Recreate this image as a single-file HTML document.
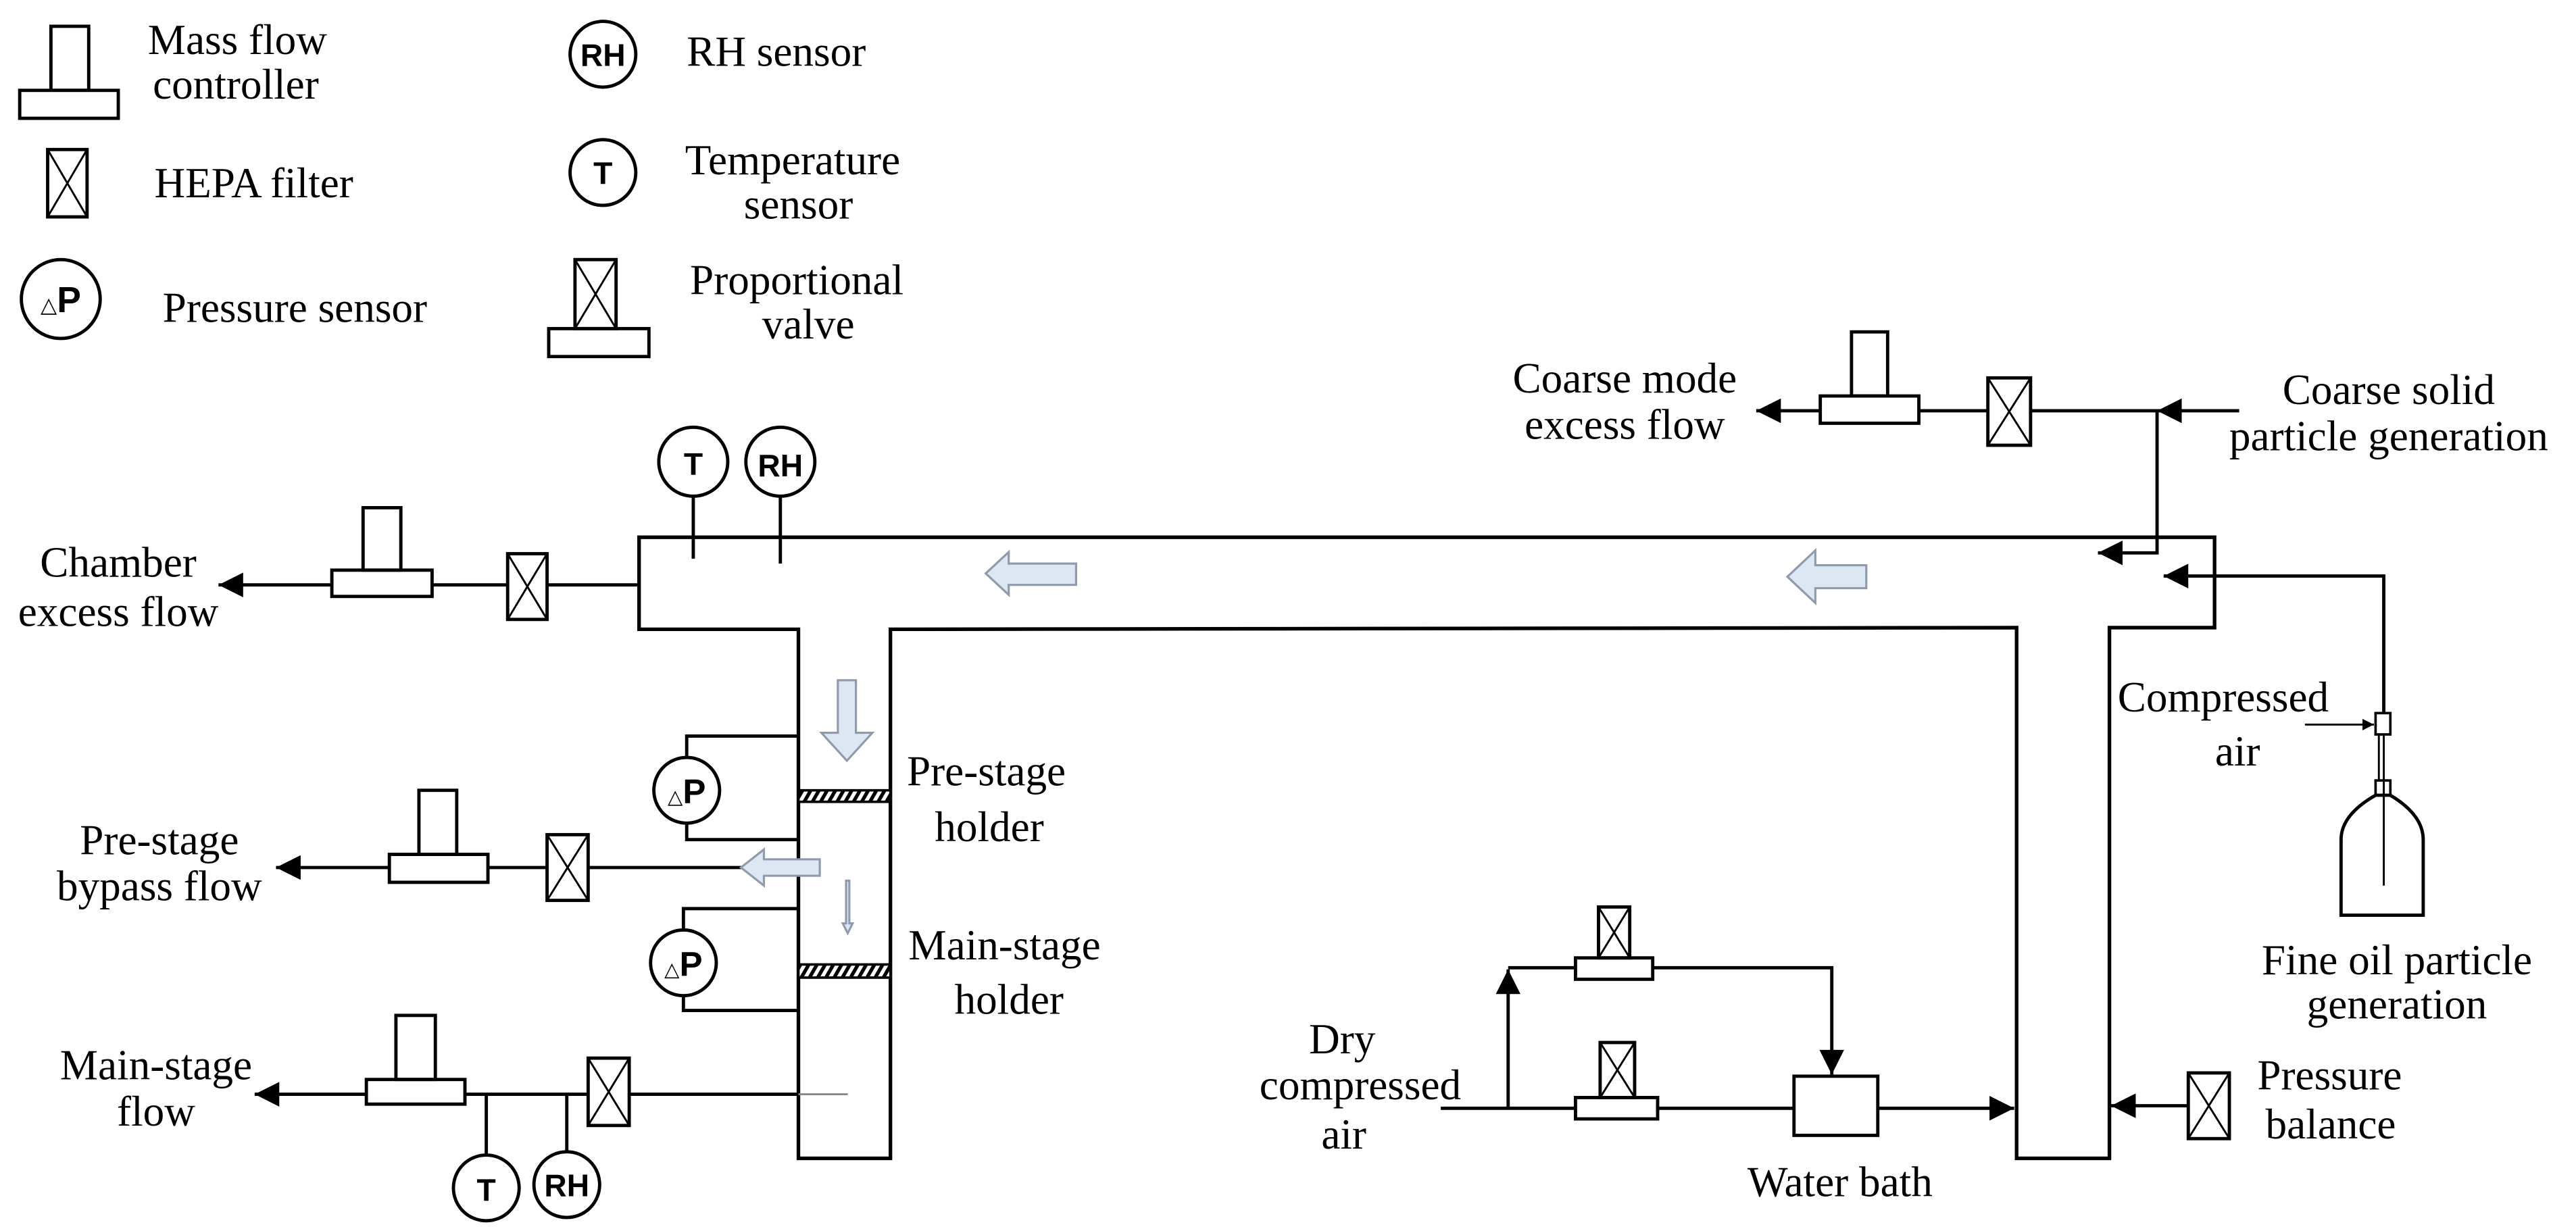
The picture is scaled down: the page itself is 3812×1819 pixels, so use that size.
<!DOCTYPE html>
<html><head><meta charset="utf-8"><style>
html,body{margin:0;padding:0;background:#fff;}
svg{display:block;}
text{font-family:"Liberation Serif",serif;font-size:26px;fill:#000;}
.s{font-family:"Liberation Sans",sans-serif;font-weight:bold;font-size:19px;}
</style></head><body>
<svg width="3812" height="1819" viewBox="0 0 1568 748" preserveAspectRatio="none" xmlns="http://www.w3.org/2000/svg">
<defs>
<marker id="ah" viewBox="0 0 10 10" refX="10" refY="5" markerWidth="20" markerHeight="15" markerUnits="userSpaceOnUse" orient="auto"><path d="M0,0 L10,5 L0,10 z" fill="#000"/></marker>
<marker id="sm" viewBox="0 0 10 10" refX="10" refY="5" markerWidth="8" markerHeight="7" markerUnits="userSpaceOnUse" orient="auto"><path d="M0,0 L10,5 L0,10 z" fill="#000"/></marker>
<pattern id="hat" width="5" height="8" patternUnits="userSpaceOnUse" patternTransform="skewX(-30)"><rect width="5" height="8" fill="#fff"/><rect width="2.5" height="8" fill="#000"/></pattern>
</defs>
<g fill="none" stroke="#000" stroke-width="2">
<!-- Legend -->
<rect x="31" y="16" width="23" height="39" fill="#fff"/>
<rect x="12" y="55" width="60" height="17" fill="#fff"/>
<rect x="29" y="91" width="24" height="41"/><path d="M29,91 L53,132 M53,91 L29,132" stroke-width="1.2"/>
<circle cx="37" cy="182" r="24"/>
<circle cx="367" cy="33" r="20"/>
<circle cx="367" cy="105" r="20"/>
<rect x="350" y="158" width="25" height="42"/><path d="M350,158 L375,200 M375,158 L350,200" stroke-width="1.2"/>
<rect x="334" y="200" width="61" height="17"/>

<!-- Chamber -->
<path d="M389,327 L1348,327 L1348,382 L1284,382 L1284,705 L1227.5,705 L1227.5,382 L542,383 L542,705 L486,705 L486,383 L389,383 Z" stroke-width="2.2"/>

<!-- T/RH on chamber -->
<circle cx="422" cy="281" r="21"/><path d="M422,302 L422,340"/>
<circle cx="475" cy="281" r="21"/><path d="M475,302 L475,343"/>

<!-- Chamber excess flow -->
<path d="M389,356 L333,356 M309,356 L263,356 M202,356 L133,356" marker-end="url(#ah)"/>
<rect x="309" y="337" width="24" height="40"/><path d="M309,337 L333,377 M333,337 L309,377" stroke-width="1.2"/>
<rect x="202" y="347" width="61" height="16"/>
<rect x="221" y="309" width="23" height="38"/>

<!-- Pressure sensors -->
<path d="M486,448 L418,448 L418,461 M418,501 L418,511 L486,511"/>
<circle cx="418" cy="481" r="20" fill="#fff"/>
<path d="M486,553 L416,553 L416,566 M416,606 L416,615 L486,615"/>
<circle cx="416" cy="586" r="20" fill="#fff"/>

<!-- Holders -->
<rect x="486" y="481" width="56" height="7" fill="url(#hat)" stroke-width="1.5"/>
<rect x="486" y="587" width="56" height="8" fill="url(#hat)" stroke-width="1.5"/>

<!-- Pre-stage bypass -->
<path d="M486,528 L358,528 M333,528 L297,528 M237,528 L168,528" marker-end="url(#ah)"/>
<rect x="333" y="508" width="25" height="40"/><path d="M333,508 L358,548 M358,508 L333,548" stroke-width="1.2"/>
<rect x="237" y="520" width="60" height="17"/>
<rect x="255" y="481" width="23" height="39"/>

<!-- Main-stage flow -->
<path d="M486,666 L383,666 M358,666 L283,666 M223,666 L155,666" marker-end="url(#ah)"/>
<path d="M486,666 L516,666" stroke="#888" stroke-width="1.2"/>
<rect x="358" y="644" width="25" height="41"/><path d="M358,644 L383,685 M383,644 L358,685" stroke-width="1.2"/>
<rect x="223" y="657" width="60" height="15"/>
<rect x="241" y="618" width="24" height="39"/>
<path d="M296,666 L296,703 M345,666 L345,701"/>
<circle cx="296" cy="723" r="20"/>
<circle cx="345" cy="721" r="20"/>

<!-- Coarse mode -->
<path d="M1363,250 L1313,250" marker-end="url(#ah)"/>
<path d="M1313,250 L1236,250 M1210,250 L1168,250 M1108,250 L1069,250" marker-end="url(#ah)"/>
<rect x="1210" y="230" width="26" height="41"/><path d="M1210,230 L1236,271 M1236,230 L1210,271" stroke-width="1.2"/>
<rect x="1108" y="241" width="60" height="16.6"/>
<rect x="1127" y="202" width="22" height="39"/>
<path d="M1313,250 L1313,336.5 L1277,336.5" marker-end="url(#ah)"/>

<!-- Fine oil -->
<path d="M1451,434 L1451,350.6 L1317,350.6" marker-end="url(#ah)"/>
<rect x="1446" y="434" width="9" height="13" stroke-width="1.5"/>
<path d="M1403,441 L1445,441" stroke-width="1.2" marker-end="url(#sm)"/>
<path d="M1451,447 L1451,539 M1448,447 L1448,475" stroke-width="1.2"/>
<rect x="1446" y="475" width="9" height="9" stroke-width="1.5"/>
<path d="M1425,557 L1425,511 Q1425,496 1446,484 L1455,484 Q1475,496 1475,511 L1475,557 Z"/>

<!-- Dry compressed air -->
<path d="M877,674.5 L959,674.5 M1009,674.5 L1092,674.5"/>
<rect x="959" y="668" width="50" height="13"/>
<rect x="974" y="634.5" width="21" height="33.5"/><path d="M974,634.5 L995,668 M995,634.5 L974,668" stroke-width="1.2"/>
<rect x="1092" y="655" width="51" height="36"/>
<path d="M1143,674.5 L1226,674.5" marker-end="url(#ah)"/>
<path d="M918,674.5 L918,590" marker-end="url(#ah)"/>
<path d="M918,589 L959,589 M1006,589 L1115,589 L1115,654" marker-end="url(#ah)"/>
<rect x="959" y="583" width="47" height="13"/>
<rect x="973" y="552" width="19" height="31"/><path d="M973,552 L992,583 M992,552 L973,583" stroke-width="1.2"/>

<!-- Pressure balance -->
<path d="M1332,673 L1285,673" marker-end="url(#ah)"/>
<rect x="1332" y="653" width="25" height="40"/><path d="M1332,653 L1357,693 M1357,653 L1332,693" stroke-width="1.2"/>
</g>

<!-- Hollow flow arrows -->
<g fill="#dde7f4" stroke="#8f9bab" stroke-width="1.3">
<polygon points="1088,351 1105,335 1105,344 1136,344 1136,358 1105,358 1105,367"/>
<polygon points="600,349 614,336 614,343 655,343 655,356 614,356 614,362"/>
<polygon points="451,528 465,517 465,523 499,523 499,533 465,533 465,539"/>
<polygon points="510,414 521,414 521,446 531,446 515.5,463 500,446 510,446"/>
<polygon points="515,536 517,536 517,562 519,562 516,568 513,562 515,562"/>
</g>

<!-- Sensor labels -->
<text class="s" x="367" y="40" text-anchor="middle" font-size="17">RH</text>
<text class="s" x="367" y="112" text-anchor="middle">T</text>
<text class="s" x="37" y="190" text-anchor="middle"><tspan font-size="13" font-weight="normal">△</tspan><tspan font-size="22">P</tspan></text>
<text class="s" x="422" y="289" text-anchor="middle">T</text>
<text class="s" x="475" y="290" text-anchor="middle" font-size="17">RH</text>
<text class="s" x="418" y="489" text-anchor="middle"><tspan font-size="12" font-weight="normal">△</tspan><tspan font-size="21">P</tspan></text>
<text class="s" x="416" y="594" text-anchor="middle"><tspan font-size="12" font-weight="normal">△</tspan><tspan font-size="21">P</tspan></text>
<text class="s" x="296" y="731" text-anchor="middle">T</text>
<text class="s" x="345" y="728" text-anchor="middle" font-size="17">RH</text>

<!-- Legend text -->
<text x="90" y="33">Mass flow</text>
<text x="93" y="60">controller</text>
<text x="94" y="120">HEPA filter</text>
<text x="99" y="196">Pressure sensor</text>
<text x="418" y="40">RH sensor</text>
<text x="417" y="106">Temperature</text>
<text x="486" y="133" text-anchor="middle">sensor</text>
<text x="420" y="179">Proportional</text>
<text x="492" y="206" text-anchor="middle">valve</text>

<!-- Diagram labels -->
<text x="72" y="351" text-anchor="middle">Chamber</text>
<text x="72" y="381" text-anchor="middle">excess flow</text>
<text x="97" y="520" text-anchor="middle">Pre-stage</text>
<text x="97" y="548" text-anchor="middle">bypass flow</text>
<text x="95" y="657" text-anchor="middle">Main-stage</text>
<text x="95" y="685" text-anchor="middle">flow</text>
<text x="552" y="478">Pre-stage</text>
<text x="569" y="512">holder</text>
<text x="553" y="584">Main-stage</text>
<text x="581" y="617">holder</text>
<text x="989" y="239" text-anchor="middle">Coarse mode</text>
<text x="989" y="267" text-anchor="middle">excess flow</text>
<text x="1454" y="246" text-anchor="middle">Coarse solid</text>
<text x="1454" y="274" text-anchor="middle">particle generation</text>
<text x="1289" y="433">Compressed</text>
<text x="1362" y="466" text-anchor="middle">air</text>
<text x="1459" y="593" text-anchor="middle">Fine oil particle</text>
<text x="1459" y="620" text-anchor="middle">generation</text>
<text x="817" y="641" text-anchor="middle">Dry</text>
<text x="828" y="669" text-anchor="middle">compressed</text>
<text x="818" y="699" text-anchor="middle">air</text>
<text x="1120" y="728" text-anchor="middle">Water bath</text>
<text x="1374" y="663">Pressure</text>
<text x="1379" y="693">balance</text>
</svg>
</body></html>
